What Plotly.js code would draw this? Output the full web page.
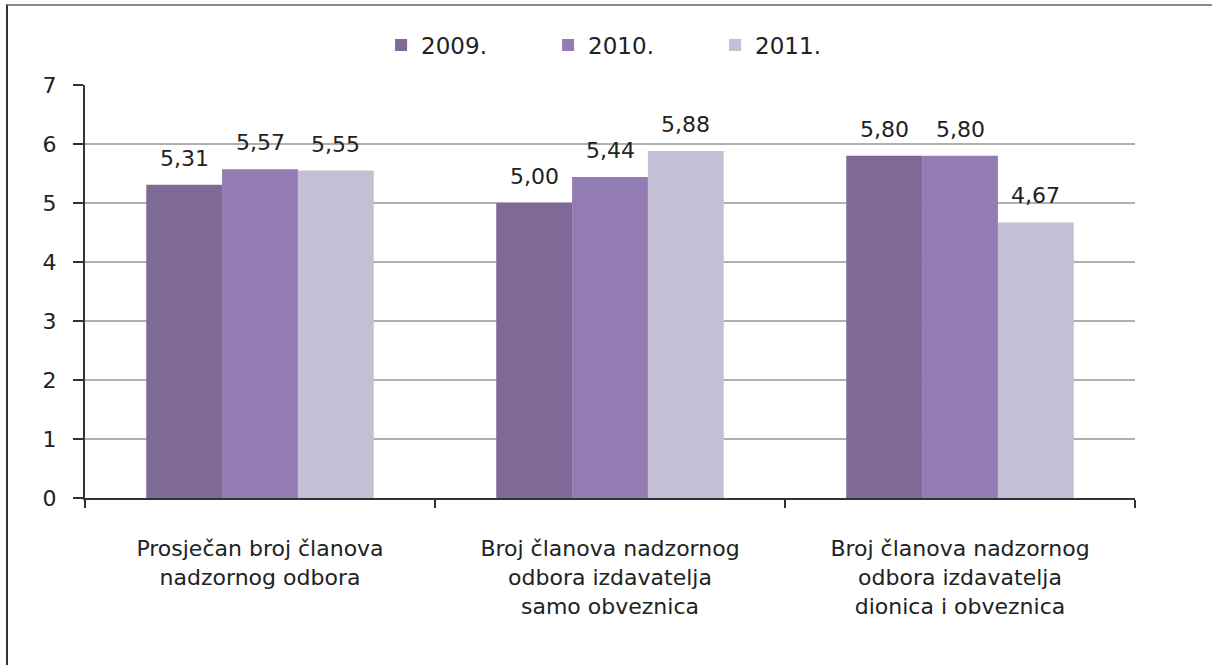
<!DOCTYPE html>
<html>
<head>
<meta charset="utf-8">
<script src="https://cdn.plot.ly/plotly-3.0.1.min.js"></script>
<style>
    body { margin: 0; background: #fff; }
    #chart { position: absolute; left: 0; top: 0; width: 1212px; height: 665px; }
    #frame {
        position: absolute; left: 6px; top: 4px; width: 1212px; height: 670px;
        border-top: 2px solid #8a8a8a; border-left: 2px solid #333;
        pointer-events: none;
    }
</style>
</head>
<body>
<div id="chart"></div>
<div id="frame"></div>
<script>
const categories = [
    'Prosječan broj članova<br>nadzornog odbora',
    'Broj članova nadzornog<br>odbora izdavatelja<br>samo obveznica',
    'Broj članova nadzornog<br>odbora izdavatelja<br>dionica i obveznica'
];
const years = ['2009.', '2010.', '2011.'];
const values2009 = [5.31, 5.00, 5.80];
const values2010 = [5.57, 5.44, 5.80];
const values2011 = [5.55, 5.88, 4.67];
const colors = ['#7f6996', '#937cb3', '#c4bfd5'];

const font = 'DejaVu Sans, Verdana, sans-serif';
const series = [values2009, values2010, values2011];

const traces = series.map((vals, i) => ({
    type: 'bar',
    name: years[i],
    x: categories,
    y: vals,
    marker: { color: colors[i] },
    hoverinfo: 'skip',
}));

// value labels above the bars, a bit higher than plotly's own outside text
const barPx = 350 * 0.65 / 3;
const annotations = [];
series.forEach((vals, i) => {
    vals.forEach((v, j) => {
        annotations.push({
            x: categories[j],
            y: v,
            xref: 'x',
            yref: 'y',
            text: v.toFixed(2).replace('.', ','),
            showarrow: false,
            xshift: (i - 1) * barPx,
            yanchor: 'bottom',
            yshift: 12,
            font: { family: font, size: 22, color: '#222' },
        });
    });
});

const layout = {
    width: 1212,
    height: 665,
    margin: { l: 85, r: 77, t: 85, b: 167 },
    paper_bgcolor: '#fff',
    plot_bgcolor: '#fff',
    separators: ',.',
    font: { family: font, size: 21, color: '#222' },
    bargap: 0.35,
    bargroupgap: 0,
    showlegend: true,
    annotations: annotations,
    legend: {
        orientation: 'h',
        x: 0.282,
        xanchor: 'left',
        y: 1.097,
        yanchor: 'middle',
        font: { family: font, size: 23, color: '#222' },
        entrywidth: 122,
        traceorder: 'normal',
    },
    xaxis: {
        type: 'category',
        showline: true,
        linecolor: '#333',
        linewidth: 2,
        ticks: 'outside',
        tickson: 'boundaries',
        ticklen: 8,
        tickcolor: '#333',
        tickwidth: 2,
        ticklabelstandoff: 30,
        tickfont: { family: font, size: 22, color: '#222' },
        showgrid: false,
        zeroline: false,
    },
    yaxis: {
        range: [0, 7],
        dtick: 1,
        showline: true,
        linecolor: '#333',
        linewidth: 2,
        ticks: 'outside',
        ticklen: 10,
        tickcolor: '#333',
        tickwidth: 2,
        ticklabelstandoff: 12,
        tickfont: { family: font, size: 22, color: '#222' },
        showgrid: true,
        gridcolor: '#b0b0b0',
        gridwidth: 2,
        zeroline: false,
    },
};

Plotly.newPlot('chart', traces, layout, { staticPlot: true });
</script>
</body>
</html>
